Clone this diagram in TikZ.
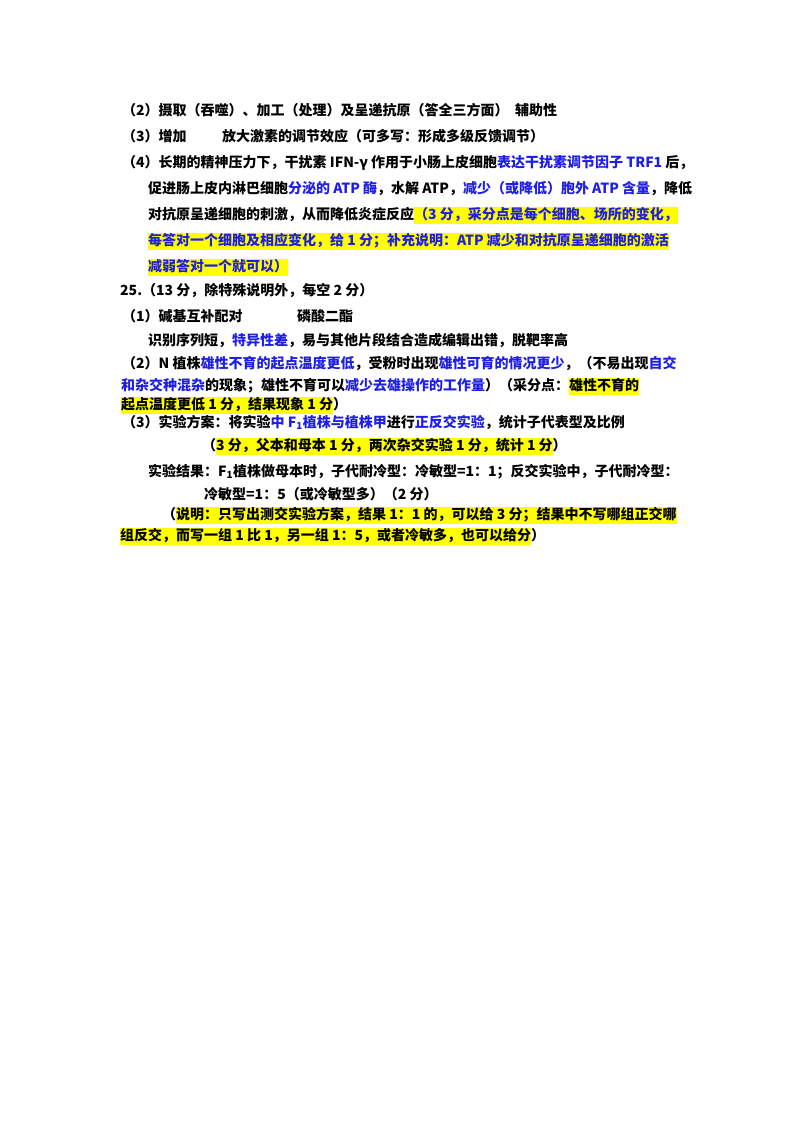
\documentclass[tikz,border=0pt]{standalone}
\usepackage{fontspec}
\usepackage{xcolor}
\setmainfont{Noto Sans CJK SC}
\definecolor{hb}{RGB}{30,30,230}
\definecolor{hy}{RGB}{255,255,0}
\newcommand{\bl}[1]{\textcolor{hb}{#1}}
\newcommand{\hl}[1]{{\setlength{\fboxsep}{0pt}\colorbox{hy}{\strut #1}}}
\newcommand{\hbl}[1]{\hl{\bl{#1}}}
\begin{document}
\begin{tikzpicture}[x=1pt,y=-1pt,
  ln/.style={anchor=base west,inner sep=0pt,font=\fontsize{14}{16}\selectfont\bfseries}]
\useasboundingbox[fill=white] (0,0) rectangle (800,1132);
\node[ln] (a1) at (122,115) {（2）摄取（吞噬）、加工（处理）及呈递抗原（答全三方面）};
\node[ln] (a2) at (515,115) {辅助性};
\node[ln] (b1) at (122,141) {（3）增加};
\node[ln] (b2) at (222,141) {放大激素的调节效应（可多写：形成多级反馈调节）};
\node[ln] (c1) at (122,167) {（4）长期的精神压力下，干扰素 IFN-γ 作用于小肠上皮细胞\bl{表达干扰素调节因子 TRF1} 后，};
\node[ln] (c2) at (148,193) {促进肠上皮内淋巴细胞\bl{分泌的 ATP 酶}，水解 ATP，\bl{减少（或降低）胞外 ATP 含量}，降低};
\node[ln] (c3) at (148,219) {对抗原呈递细胞的刺激，从而降低炎症反应\hbl{（3 分，采分点是每个细胞、场所的变化，}};
\node[ln] (c4) at (148,245) {\hbl{每答对一个细胞及相应变化，给 1 分；补充说明：ATP 减少和对抗原呈递细胞的激活}};
\node[ln] (c5) at (148,271) {\hbl{减弱答对一个就可以）}};
\node[ln] (d0) at (120,295) {25.（13 分，除特殊说明外，每空 2 分）};
\node[ln] (d1) at (122,321) {（1）碱基互补配对};
\node[ln] (d2) at (297,321) {磷酸二酯};
\node[ln] (d3) at (148,345) {识别序列短，\bl{特异性差}，易与其他片段结合造成编辑出错，脱靶率高};
\node[ln] (e1) at (122,368) {（2）N 植株\bl{雄性不育的起点温度更低}，受粉时出现\bl{雄性可育的情况更少}，（不易出现\bl{自交}};
\node[ln] (e2) at (121,390) {\bl{和杂交种混杂}的现象；雄性不育可以\bl{减少去雄操作的工作量}）（采分点：\hl{雄性不育的}};
\node[ln] (e3) at (121,409) {\hl{起点温度更低 1 分，结果现象 1 分}）};
\node[ln] (f2) at (122,427) {（3）实验方案：将实验\bl{中 F\textsubscript{1}植株与植株甲}进行\bl{正反交实验}，统计子代表型及比例};
\node[ln] (f3) at (202,450) {（\hl{3 分，父本和母本 1 分，两次杂交实验 1 分，统计 1 分}）};
\node[ln] (g1) at (148,476) {实验结果：F\textsubscript{1}植株做母本时，子代耐冷型：冷敏型=1：1；反交实验中，子代耐冷型：};
\node[ln] (g2) at (204,499) {冷敏型=1：5（或冷敏型多）（2 分）};
\node[ln] (h1) at (162,519) {（\hl{说明：只写出测交实验方案，结果 1：1 的，可以给 3 分；结果中不写哪组正交哪}};
\node[ln] (h2) at (120,540) {\hl{组反交，而写一组 1 比 1，另一组 1：5，或者冷敏多，也可以给分}）};
\end{tikzpicture}
\end{document}
